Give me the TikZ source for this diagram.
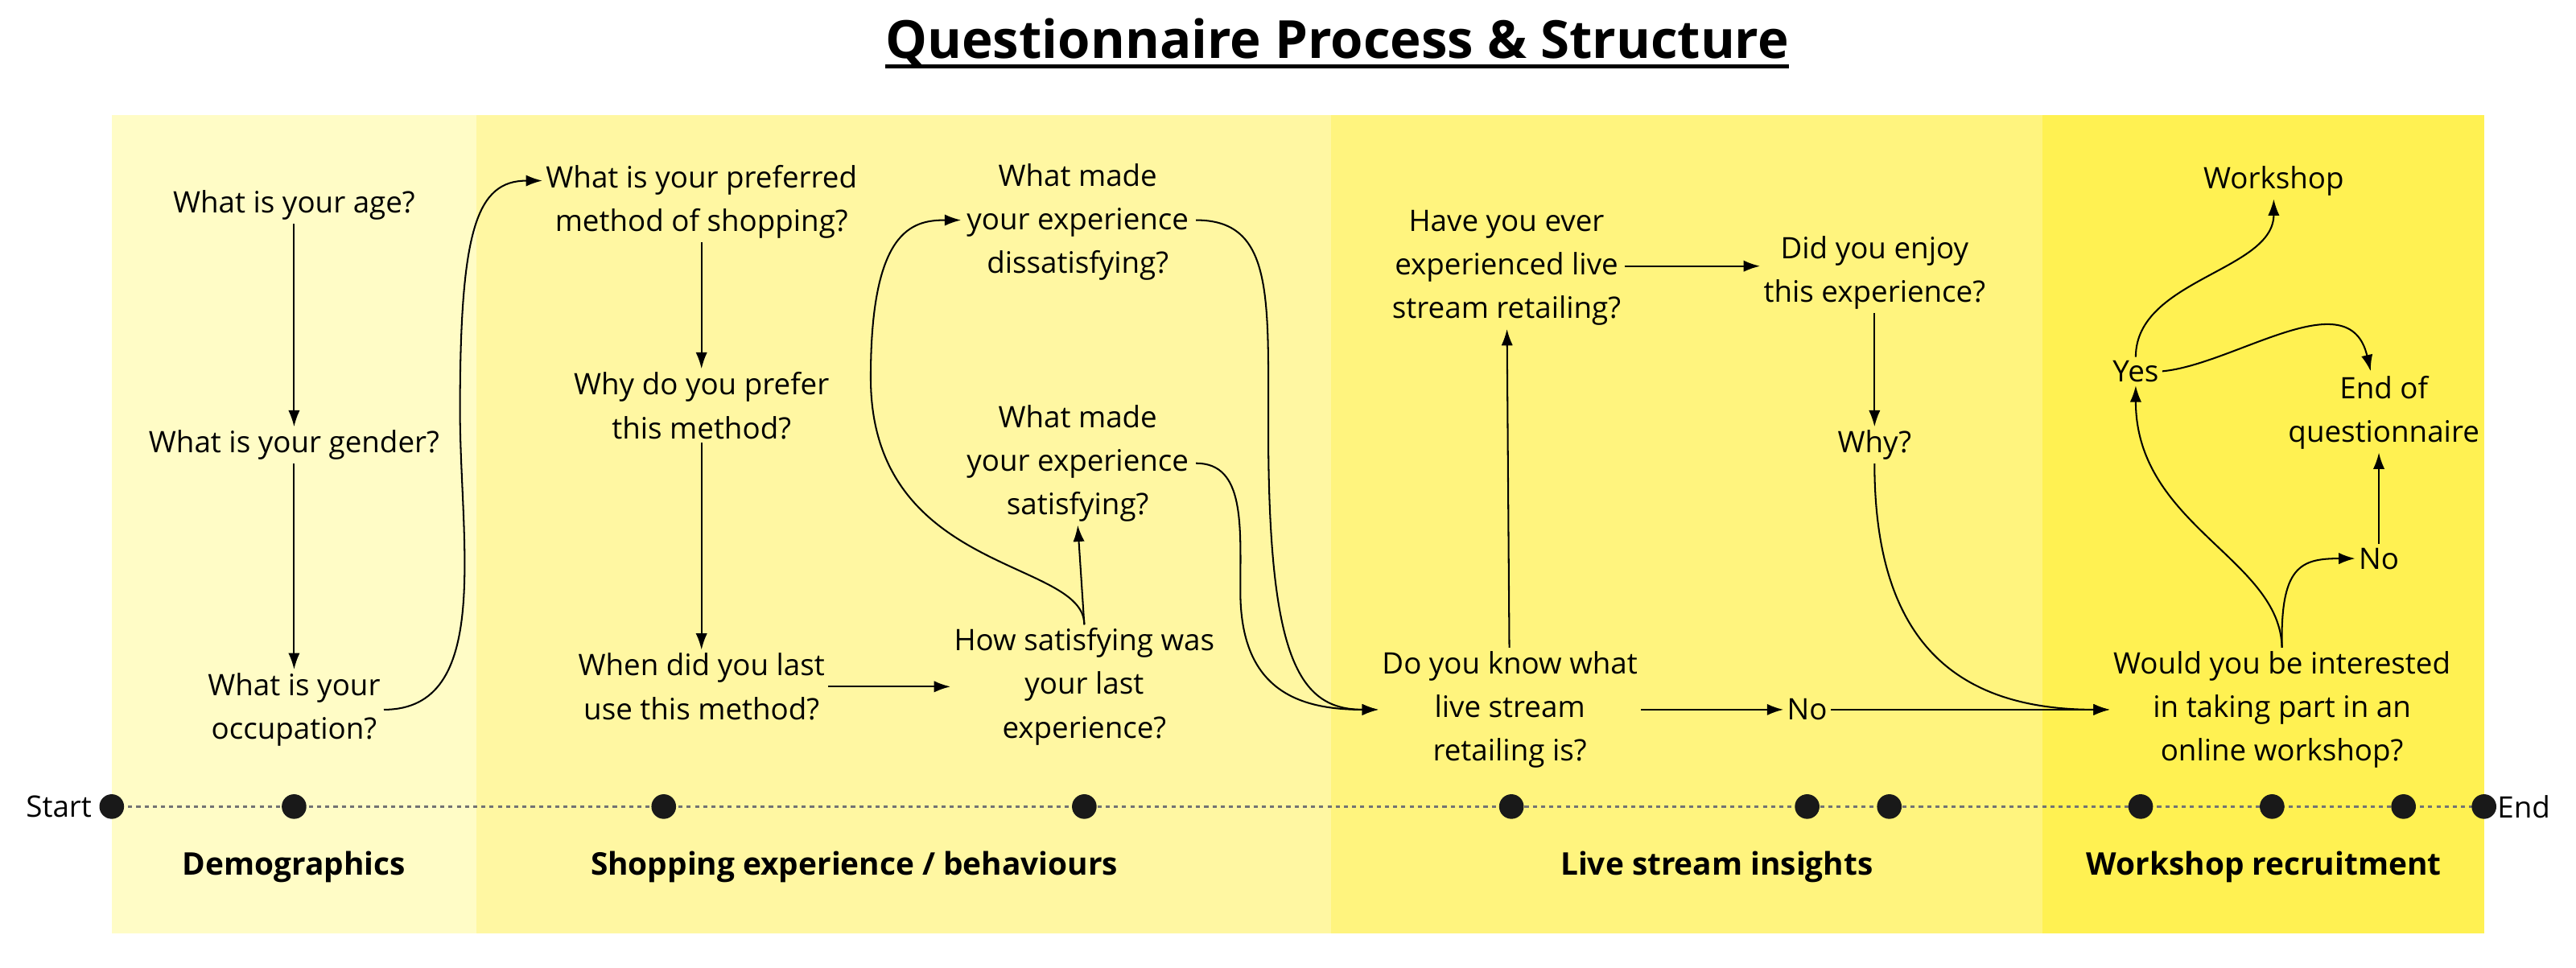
\documentclass[tikz,border=0pt]{standalone}
\usepackage{fontspec}
\setmainfont{Open Sans}
\usetikzlibrary{arrows.meta}
\definecolor{bA}{HTML}{FFFCC6}
\definecolor{bB}{HTML}{FFF7A2}
\definecolor{bC}{HTML}{FFF47E}
\definecolor{bD}{HTML}{FFF152}
\begin{document}
\begin{tikzpicture}[x=1pt,y=-1pt,
  q/.style={align=center,font=\fontsize{18}{26.5}\selectfont,inner sep=2pt},
  lab/.style={font=\fontsize{19}{24}\selectfont\bfseries},
  ar/.style={line width=1pt,-{Latex[length=10pt,width=7pt]}},
  dot/.style={circle,fill=black!90,minimum size=15pt,inner sep=0pt}]
\useasboundingbox (0,0) rectangle (1568,589);
\fill[white] (0,0) rectangle (1568,589);
\fill[bA] (68,70) rectangle (290,568);
\fill[bB] (290,70) rectangle (810,568);
\fill[bC] (810,70) rectangle (1243,568);
\fill[bD] (1243,70) rectangle (1512,568);
\node[font=\fontsize{32}{36}\selectfont\bfseries,inner sep=0pt] (title) at (814,26) {Questionnaire Process \& Structure};
\draw[line width=2.2pt] ([yshift=-5pt]title.base west) -- ([yshift=-5pt]title.base east);
% timeline
\draw[line width=1.6pt,black!55,dash pattern=on 2.5pt off 2.5pt] (68,491) -- (1512,491);
\foreach \x/\n in {68/d1,179/d2,404/d3,660/d4,920/d5,1100/d6,1150/d7,1303/d8,1383/d9,1463/d10,1512/d11}
  \node[dot] (\n) at (\x,491) {};
\node[q,anchor=east] (start) at (58,491) {Start};
\node[q,anchor=west] (endl) at (1518,491) {End};
\node[lab] (l1) at (179,528) {Demographics};
\node[lab] (l2) at (520,528) {Shopping experience / behaviours};
\node[lab] (l3) at (1045,528) {Live stream insights};
\node[lab] (l4) at (1378,528) {Workshop recruitment};
% nodes
\node[q] (age) at (179,125) {What is your age?};
\node[q] (gender) at (179,271) {What is your gender?};
\node[q] (occ) at (179,432) {What is your\\occupation?};
\node[q] (pref) at (427,123) {What is your preferred\\method of shopping?};
\node[q] (why1) at (427,247) {Why do you prefer\\this method?};
\node[q] (when) at (427,418) {When did you last\\use this method?};
\node[q] (dis) at (656,135) {What made\\your experience\\dissatisfying?};
\node[q] (sat) at (656,282) {What made\\your experience\\satisfying?};
\node[q] (how) at (660,418) {How satisfying was\\your last\\experience?};
\node[q] (have) at (917,163) {Have you ever\\experienced live\\stream retailing?};
\node[q] (enjoy) at (1141,166) {Did you enjoy\\this experience?};
\node[q] (why2) at (1141,271) {Why?};
\node[q] (know) at (919,432) {Do you know what\\live stream\\retailing is?};
\node[q] (no1) at (1100,432) {No};
\node[q] (would) at (1389,432) {Would you be interested\\in taking part in an\\online workshop?};
\node[q] (work) at (1384,110) {Workshop};
\node[q] (yes) at (1300,226) {Yes};
\node[q] (endq) at (1451,251) {End of\\questionnaire};
\node[q] (no2) at (1448,340) {No};
% connectors
\draw[ar] (age) -- (gender);
\draw[ar] (gender) -- (occ);
\draw[ar] (occ.east) .. controls (300,432) and (280,330) .. (280,250) .. controls (280,140) and (290,110) .. (pref.west|-0,110);
\draw[ar] (pref) -- (why1);
\draw[ar] (why1) -- (when);
\draw[ar] (when) -- (how);
\draw[ar] (how.north) -- (sat.south);
\draw[ar] (how.north) .. controls (660,340) and (530,350) .. (530,230) .. controls (530,140) and (555,134) .. (585,134);
\draw[ar] (728,134) .. controls (775,134) and (772,180) .. (772,260) .. controls (772,400) and (790,432) .. (know.west);
\draw[ar] (728,282) .. controls (758,282) and (755,320) .. (755,360) .. controls (755,420) and (790,432) .. (know.west);
\draw[ar] (know) -- (have);
\draw[ar] (have.east|-0,162) -- (enjoy.west|-0,162);
\draw[ar] (enjoy) -- (why2);
\draw[ar] (know.east) -- (no1.west);
\draw[ar] (no1.east) -- (would.west);
\draw[ar] (why2.south) .. controls (1141,390) and (1190,432) .. (would.west);
\draw[ar] (would.north) .. controls (1388,340) and (1300,320) .. (yes.south);
\draw[ar] (would.north) .. controls (1388,345) and (1400,340) .. (no2.west);
\draw[ar] (yes.north) .. controls (1300,170) and (1384,165) .. (work.south);
\draw[ar] (yes.east) .. controls (1360,222) and (1430,170) .. (1443,226);
\draw[ar] (no2.north) -- (no2.north|-endq.south);
\end{tikzpicture}
\end{document}
